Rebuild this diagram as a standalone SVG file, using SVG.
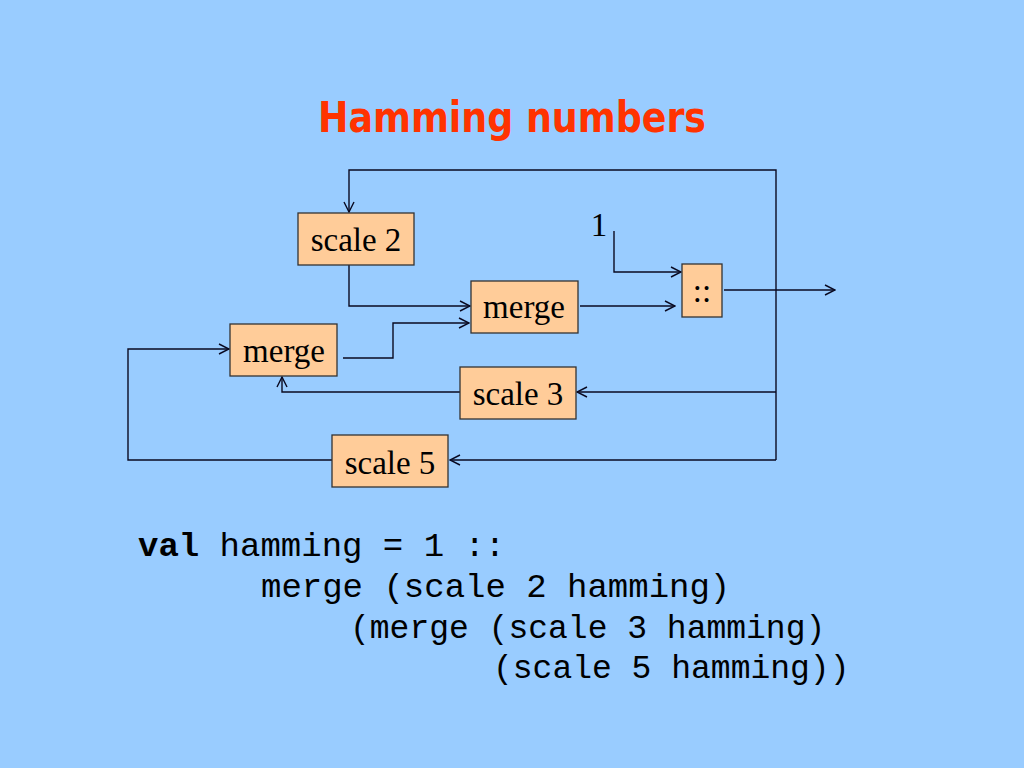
<svg xmlns="http://www.w3.org/2000/svg" width="1024" height="768" viewBox="0 0 1024 768">
<defs>
<marker id="arr" viewBox="0 0 12 12" refX="11" refY="6" markerWidth="12" markerHeight="12" markerUnits="userSpaceOnUse" orient="auto">
<path d="M1,1 L11,6 L1,11" fill="none" stroke="#0A0A22" stroke-width="1.4"/>
</marker>
</defs>
<style>
.box{fill:#FFCC99;stroke:#333333;stroke-width:1.3}
.lbl{font-family:"Liberation Serif","Times New Roman",serif;font-size:33px;fill:#000000;text-anchor:middle}
.conn{fill:none;stroke:#0A0A22;stroke-width:1.4;marker-end:url(#arr)}
.line{fill:none;stroke:#0A0A22;stroke-width:1.4}
.code{font-family:"Liberation Mono","Courier New",monospace;font-size:33px;fill:#000000}
.big{font-size:34px}
</style>
<rect x="0" y="0" width="1024" height="768" fill="#99CCFF"/>
<text x="512" y="132" text-anchor="middle" font-family="'Comic Sans MS','DejaVu Sans',sans-serif" font-weight="bold" font-size="43" fill="#FF3300" textLength="388" lengthAdjust="spacingAndGlyphs">Hamming numbers</text>

<g id="connectors">
<path class="conn" d="M776,392 L776,170 L349,170 L349,212"/>
<path class="line" d="M776,392 L776,460"/>
<path class="conn" d="M724,290 L835,290"/>
<path class="conn" d="M614,231 L614,272 L681,272"/>
<path class="conn" d="M580,306 L675,306"/>
<path class="conn" d="M349,265 L349,306 L470,306"/>
<path class="conn" d="M343,358 L393,358 L393,323 L469,323"/>
<path class="conn" d="M460,392 L282,392 L282,377"/>
<path class="conn" d="M776,392 L577,392"/>
<path class="conn" d="M776,460 L450,460"/>
<path class="conn" d="M332,460 L128,460 L128,349 L229,349"/>
</g>

<g id="scale2"><rect class="box" x="298" y="213" width="116" height="52"/><text class="lbl" x="356" y="251">scale 2</text></g>
<g id="merge1"><rect class="box" x="471" y="281" width="107" height="52"/><text class="lbl" x="524" y="318">merge</text></g>
<g id="cons"><rect class="box" x="682" y="264" width="40" height="53"/><text class="lbl" x="702" y="302">::</text></g>
<g id="merge2"><rect class="box" x="230" y="324" width="107" height="52"/><text class="lbl" x="284" y="362">merge</text></g>
<g id="scale3"><rect class="box" x="460" y="367" width="116" height="52"/><text class="lbl" x="518" y="405">scale 3</text></g>
<g id="scale5"><rect class="box" x="332" y="435" width="116" height="52"/><text class="lbl" x="390" y="474">scale 5</text></g>
<g id="one"><text class="lbl" x="599" y="236">1</text></g>

<g id="code">
<text class="code big" x="138" y="556"><tspan font-weight="bold">val</tspan> hamming = 1 ::</text>
<text class="code big" x="261" y="597">merge (scale 2 hamming)</text>
<text class="code" x="350" y="638">(merge (scale 3 hamming)</text>
<text class="code" x="493" y="678">(scale 5 hamming))</text>
</g>
</svg>
